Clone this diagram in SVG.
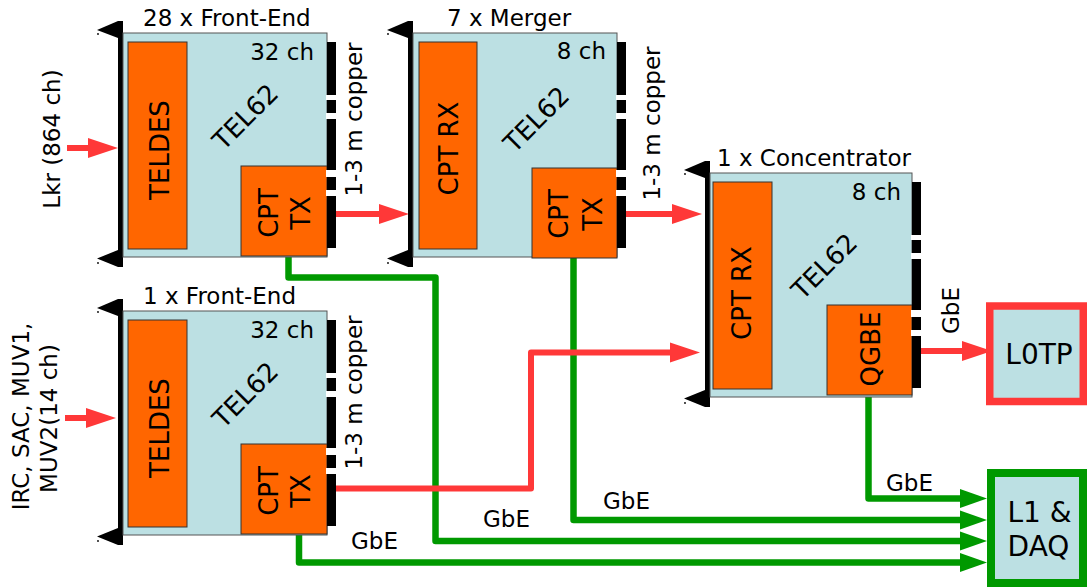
<svg xmlns="http://www.w3.org/2000/svg" xmlns:xlink="http://www.w3.org/1999/xlink" width="1087" height="587" viewBox="0 0 1087 587">
<style>
text{font-family:"DejaVu Sans","Liberation Sans",sans-serif;fill:#000}
.s{font-size:23px}
.m{font-size:26px}
.l{font-size:28px}
.mid{text-anchor:middle}
.end{text-anchor:end}
.board{fill:#bce0e3;stroke:#555;stroke-width:1}
.chip{fill:#ff6600;stroke:#333;stroke-width:1}
.red{fill:none;stroke:#ff3838;stroke-width:6;stroke-linejoin:round}
.grn{fill:none;stroke:#009900;stroke-width:6.5;stroke-linejoin:round}
</style>
<defs>
<marker id="ar" markerUnits="userSpaceOnUse" markerWidth="31" markerHeight="21" refX="1" refY="10" orient="auto" overflow="visible">
<path d="M0,0L30,10L0,20z" fill="#ff3838"/>
</marker>
<marker id="ag" markerUnits="userSpaceOnUse" markerWidth="28" markerHeight="20" refX="1" refY="9.5" orient="auto" overflow="visible">
<path d="M0,0L27,9.5L0,19z" fill="#009900"/>
</marker>
<g id="panel">
<rect x="-5" y="-12" width="5" height="246" fill="#000"/>
<path d="M-5,-12L-26,-3L-5,5z" fill="#000"/>
<path d="M-5,217L-26,225.5L-5,234z" fill="#000"/>
<circle cx="-25" cy="1" r="0.9" fill="#000"/>
<circle cx="-25" cy="230" r="0.9" fill="#000"/>
</g>
<g id="conn">
<rect x="0" y="9" width="9" height="206" fill="#000"/>
<rect x="-1" y="62" width="10" height="5" fill="#fff"/>
<rect x="-1" y="80" width="10" height="6" fill="#fff"/>
<rect x="-1" y="137" width="10" height="7" fill="#fff"/>
<rect x="-1" y="157" width="10" height="6" fill="#fff"/>
</g>
</defs>

<g id="connectors">
<path class="grn" d="M868.5,395V498.5H961" marker-end="url(#ag)"/>
<path class="grn" d="M573.5,258V520H961" marker-end="url(#ag)"/>
<path class="grn" d="M288.5,256V277.5H435.5V541H961" marker-end="url(#ag)"/>
<path class="grn" d="M299,534V562.5H961" marker-end="url(#ag)"/>
<path class="red" d="M67,148H89" marker-end="url(#ar)"/>
<path class="red" d="M65,418H87" marker-end="url(#ar)"/>
<path class="red" d="M336,214H380" marker-end="url(#ar)"/>
<path class="red" d="M626,214H673" marker-end="url(#ar)"/>
<path class="red" d="M336,488.5H531V352.5H671" marker-end="url(#ar)"/>
<path class="red" d="M921,351H963" marker-end="url(#ar)"/>
<text class="s" x="886" y="491">GbE</text>
<text class="s" x="603" y="509">GbE</text>
<text class="s" x="483" y="527">GbE</text>
<text class="s" x="351" y="549">GbE</text>
<text class="s mid" transform="translate(959,310.5) rotate(-90)">GbE</text>
<text class="s mid" transform="translate(362,119.5) rotate(-90)">1-3 m copper</text>
<text class="s mid" transform="translate(660,123.5) rotate(-90)">1-3 m copper</text>
<text class="s mid" transform="translate(362,392.5) rotate(-90)">1-3 m copper</text>
</g>

<g id="input-lkr">
<text class="s mid" transform="translate(60,139) rotate(-90)">Lkr (864 ch)</text>
</g>
<g id="input-irc">
<text class="s mid" transform="translate(29,416.5) rotate(-90)">IRC, SAC, MUV1,</text>
<text class="s mid" transform="translate(57,418.5) rotate(-90)">MUV2(14 ch)</text>
</g>

<g id="frontend28">
<use xlink:href="#panel" x="123" y="33"/>
<rect class="board" x="123" y="33" width="204" height="224"/>
<rect class="chip" x="128" y="42" width="59" height="207"/>
<rect class="chip" x="241" y="166" width="86" height="90"/>
<use xlink:href="#conn" x="327" y="33"/>
<text class="s" x="143" y="26">28 x Front-End</text>
<text class="s end" x="314" y="59.5">32 ch</text>
<text class="m mid" x="0" y="9.5" transform="translate(245,116.5) rotate(-45)">TEL62</text>
<text class="m mid" transform="translate(169,150) rotate(-90)">TELDES</text>
<text class="m mid" transform="translate(278,213) rotate(-90)">CPT</text>
<text class="m mid" transform="translate(310,213) rotate(-90)">TX</text>
</g>

<g id="merger">
<use xlink:href="#panel" x="413" y="33"/>
<rect class="board" x="413" y="33" width="204" height="224"/>
<rect class="chip" x="419" y="42" width="58" height="207"/>
<rect class="chip" x="532" y="168" width="85" height="90"/>
<use xlink:href="#conn" x="617" y="33"/>
<text class="s" x="447" y="26">7 x Merger</text>
<text class="s end" x="606" y="59">8 ch</text>
<text class="m mid" x="0" y="9.5" transform="translate(536,119) rotate(-45)">TEL62</text>
<text class="m mid" transform="translate(458,148.5) rotate(-90)">CPT RX</text>
<text class="m mid" transform="translate(568,214) rotate(-90)">CPT</text>
<text class="m mid" transform="translate(602,214) rotate(-90)">TX</text>
</g>

<g id="concentrator">
<use xlink:href="#panel" x="710" y="173"/>
<rect class="board" x="710" y="173" width="202" height="224"/>
<rect class="chip" x="713" y="182" width="59" height="207"/>
<rect class="chip" x="827" y="305" width="85" height="90"/>
<use xlink:href="#conn" x="912" y="173"/>
<text class="s" x="717" y="166">1 x Concentrator</text>
<text class="s end" x="901" y="200">8 ch</text>
<text class="m mid" x="0" y="9.5" transform="translate(824,266) rotate(-45)">TEL62</text>
<text class="m mid" transform="translate(751,293) rotate(-90)">CPT RX</text>
<text class="m mid" transform="translate(880,349) rotate(-90)">QGBE</text>
</g>

<g id="frontend1">
<use xlink:href="#panel" x="123" y="311"/>
<rect class="board" x="123" y="311" width="204" height="224"/>
<rect class="chip" x="128" y="320" width="59" height="207"/>
<rect class="chip" x="241" y="444" width="86" height="90"/>
<use xlink:href="#conn" x="327" y="311"/>
<text class="s" x="143" y="304">1 x Front-End</text>
<text class="s end" x="314" y="337.5">32 ch</text>
<text class="m mid" x="0" y="9.5" transform="translate(245,394.5) rotate(-45)">TEL62</text>
<text class="m mid" transform="translate(169,428) rotate(-90)">TELDES</text>
<text class="m mid" transform="translate(278,491) rotate(-90)">CPT</text>
<text class="m mid" transform="translate(310,491) rotate(-90)">TX</text>
</g>

<g id="l0tp">
<rect x="989.75" y="306" width="93.5" height="95.5" fill="#bce0e3" stroke="#ff3838" stroke-width="7.5"/>
<text class="l mid" x="1039" y="364">L0TP</text>
</g>

<g id="l1daq">
<rect x="991" y="473" width="92" height="110" fill="#bce0e3" stroke="#009900" stroke-width="8"/>
<text class="l mid" x="1039.5" y="522">L1 &amp;</text>
<text class="l mid" x="1038.5" y="556">DAQ</text>
</g>
</svg>
